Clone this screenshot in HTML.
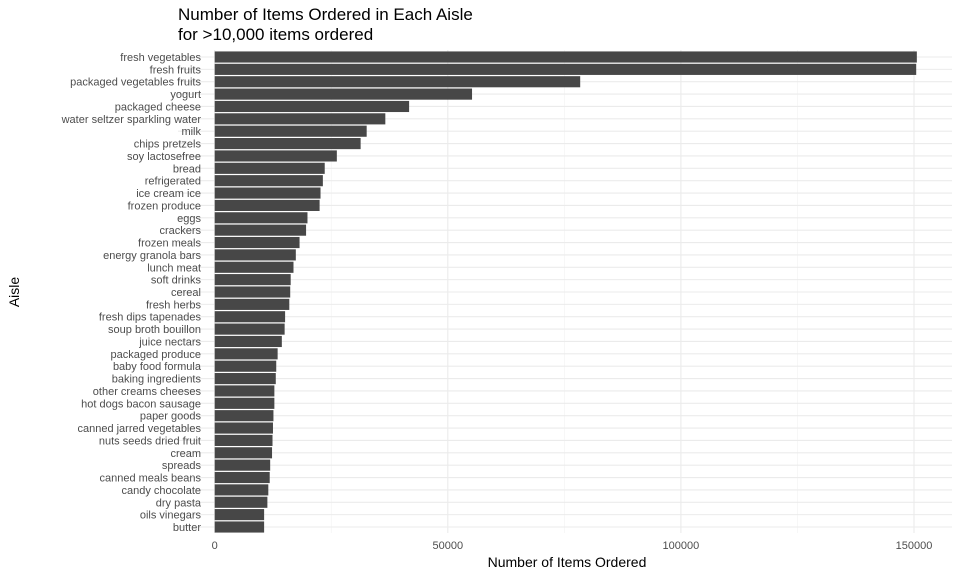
<!DOCTYPE html>
<html><head><meta charset="utf-8"><style>
body{margin:0;background:#fff;}
svg{display:block;font-family:"Liberation Sans",sans-serif;}
</style></head><body>
<svg id="chart" width="960" height="576">
<text x="178" y="20" font-size="17" fill="#000">Number of Items Ordered in Each Aisle</text>
<text x="178" y="40" font-size="17" fill="#000">for &gt;10,000 items ordered</text>
<text x="567" y="567" font-size="14" text-anchor="middle" fill="#000">Number of Items Ordered</text>
<text transform="translate(19,292) rotate(-90)" font-size="14" text-anchor="middle" fill="#000">Aisle</text>
<g id="grid"></g><g id="bars"></g><g id="labels"></g>
</svg>
<script>
const categories=["fresh vegetables","fresh fruits","packaged vegetables fruits","yogurt","packaged cheese","water seltzer sparkling water","milk","chips pretzels","soy lactosefree","bread","refrigerated","ice cream ice","frozen produce","eggs","crackers","frozen meals","energy granola bars","lunch meat","soft drinks","cereal","fresh herbs","fresh dips tapenades","soup broth bouillon","juice nectars","packaged produce","baby food formula","baking ingredients","other creams cheeses","hot dogs bacon sausage","paper goods","canned jarred vegetables","nuts seeds dried fruit","cream","spreads","canned meals beans","candy chocolate","dry pasta","oils vinegars","butter"];
const values=[150609,150473,78400,55200,41700,36600,32600,31300,26200,23600,23200,22700,22500,19900,19600,18200,17400,16900,16300,16200,16000,15100,15000,14400,13500,13200,13100,12800,12800,12600,12500,12400,12300,11900,11800,11500,11300,10600,10600];
const xTicks=[0,50000,100000,150000];
const xMinor=[25000,75000,125000];
const NS="http://www.w3.org/2000/svg";
const x0=214.7,pxPer=(914-214.7)/150000;
const X=v=>x0+v*pxPer;
const yStart=57,step=(527-57)/38;
const Y=i=>yStart+i*step;
const plotLeft=178,plotRight=952,plotTop=50,plotBottom=533;
const gridG=document.getElementById('grid'),barsG=document.getElementById('bars'),labelsG=document.getElementById('labels');
function mk(tag,a,p){const e=document.createElementNS(NS,tag);for(const k in a)e.setAttribute(k,a[k]);p.appendChild(e);return e;}
xMinor.forEach(v=>{const l=mk('line',{x1:X(v),x2:X(v),y1:plotTop,y2:plotBottom,stroke:'#f2f2f2','stroke-width':0.6},gridG);

});
xTicks.forEach(v=>{const l=mk('line',{x1:X(v),x2:X(v),y1:plotTop,y2:plotBottom,stroke:'#ebebeb','stroke-width':1.1},gridG);


const t=mk('text',{x:X(v),y:549,'font-size':11,'text-anchor':'middle',fill:'#4d4d4d'},labelsG);t.textContent=String(v);

});
categories.forEach((c,i)=>{const y=Y(i);
const g=mk('line',{x1:plotLeft,x2:plotRight,y1:y,y2:y,stroke:'#ebebeb','stroke-width':1.1},gridG);


const b=mk('rect',{x:X(0),y:y-step*0.45,width:X(values[i])-X(0),height:step*0.9,fill:'#474747'},barsG);


const t=mk('text',{x:201,y:y+4,'font-size':11,'text-anchor':'end',fill:'#4d4d4d'},labelsG);t.textContent=c;

});
</script>
</body></html>
